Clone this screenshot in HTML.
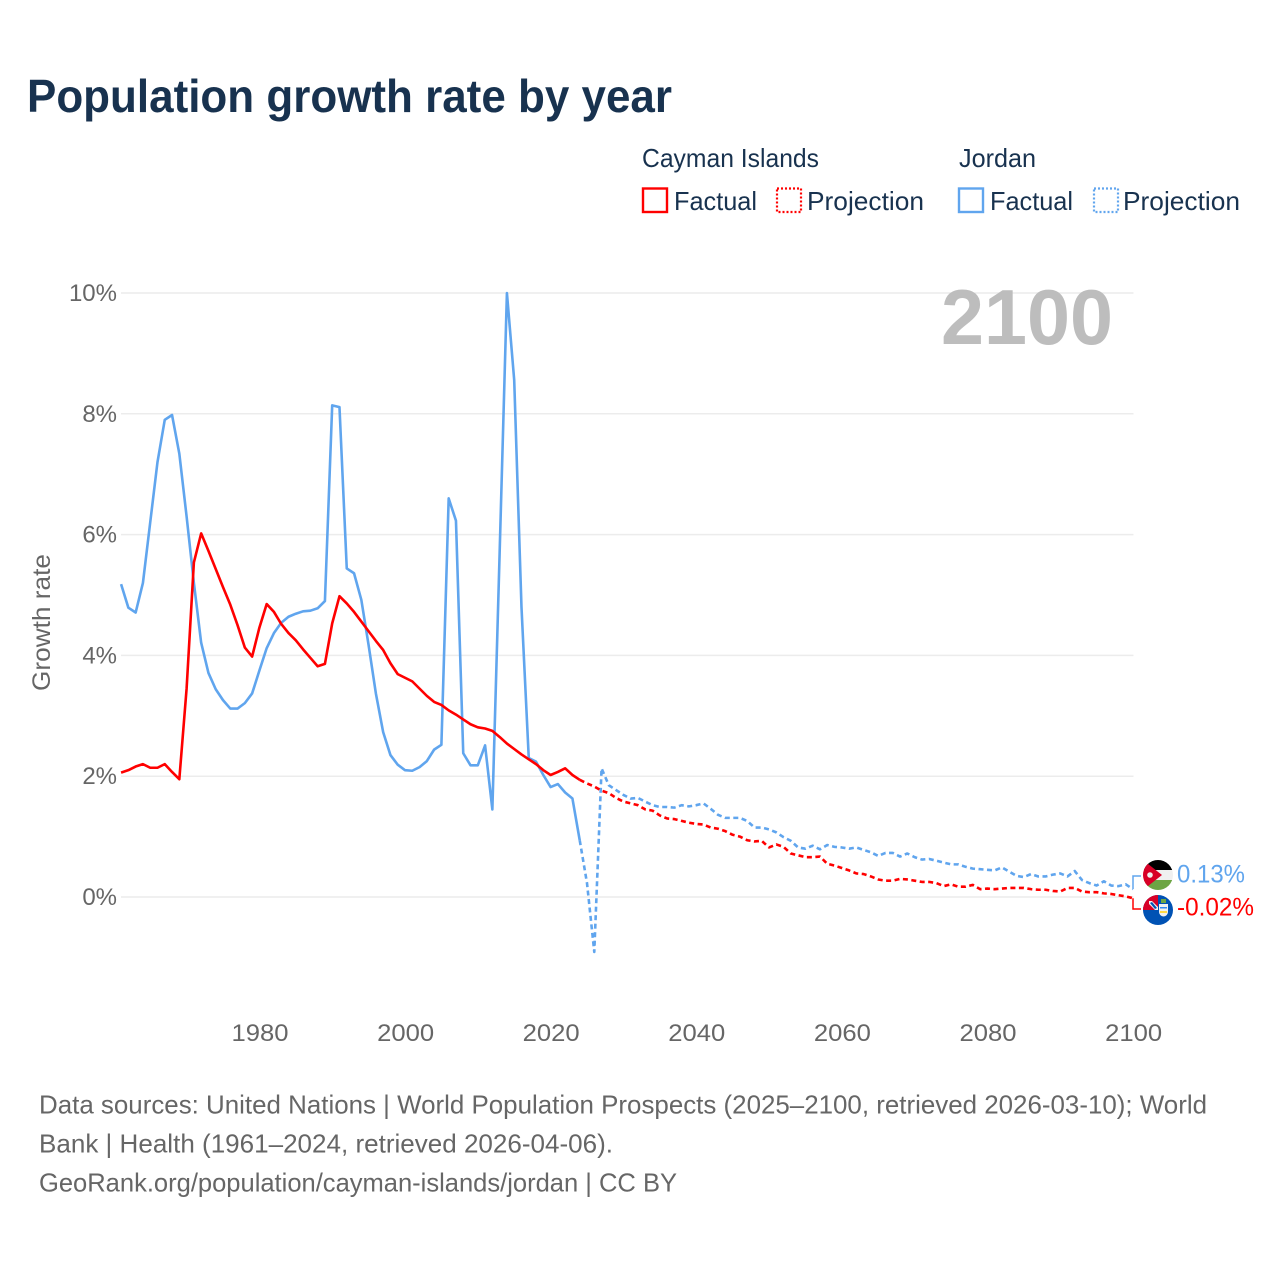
<!DOCTYPE html>
<html lang="en">
<head>
<meta charset="utf-8">
<title>Population growth rate by year</title>
<style>
html,body{margin:0;padding:0;background:#fff;}
svg{display:block;font-family:"Liberation Sans",sans-serif;}
</style>
</head>
<body>
<svg id="chart" xmlns="http://www.w3.org/2000/svg" width="1280" height="1280" viewBox="0 0 1280 1280">
  <rect width="1280" height="1280" fill="#fff"/>
  <text x="27" y="112" font-size="46" font-weight="700" fill="#18324f" textLength="645" lengthAdjust="spacingAndGlyphs">Population growth rate by year</text>

  <g font-size="26" fill="#18324f">
    <text x="642" y="167" textLength="177" lengthAdjust="spacingAndGlyphs">Cayman Islands</text>
    <text x="959" y="167" textLength="77" lengthAdjust="spacingAndGlyphs">Jordan</text>
    <g>
      <rect x="643" y="188.500" width="24" height="23.500" fill="none" stroke="#ff0000" stroke-width="2.400"/>
      <text x="674" y="210" textLength="83" lengthAdjust="spacingAndGlyphs">Factual</text>
    </g>
    <g>
      <rect x="777" y="188.500" width="24" height="23.500" fill="none" stroke="#ff0000" stroke-width="2.200" stroke-dasharray="2 2"/>
      <text x="807" y="210" textLength="117" lengthAdjust="spacingAndGlyphs">Projection</text>
    </g>
    <g>
      <rect x="959" y="188.500" width="24" height="23.500" fill="none" stroke="#60a5ee" stroke-width="2.400"/>
      <text x="990" y="210" textLength="83" lengthAdjust="spacingAndGlyphs">Factual</text>
    </g>
    <g>
      <rect x="1094" y="188.500" width="24" height="23.500" fill="none" stroke="#60a5ee" stroke-width="2.200" stroke-dasharray="2 2"/>
      <text x="1123" y="210" textLength="117" lengthAdjust="spacingAndGlyphs">Projection</text>
    </g>
  </g>

  <g id="grid"></g>
  <g id="y-ticks"></g>
  <g id="x-ticks"></g>
  <text transform="translate(50 622.5) rotate(-90)" text-anchor="middle" font-size="25" fill="#666" textLength="137" lengthAdjust="spacingAndGlyphs">Growth rate</text>
  <text x="941" y="344" font-size="78" font-weight="700" fill="#bdbdbd" textLength="172" lengthAdjust="spacingAndGlyphs">2100</text>

  <g id="series"></g>
  <g id="end-labels"></g>

  <defs>
    <clipPath id="clip-jordan"><circle cx="1158" cy="875" r="15"/></clipPath>
    <clipPath id="clip-cayman"><circle cx="1158" cy="910" r="15"/></clipPath>
  </defs>
  <g clip-path="url(#clip-jordan)">
    <rect x="1143" y="860" width="30" height="10" fill="#000"/>
    <rect x="1143" y="870" width="30" height="10" fill="#f0f0f0"/>
    <rect x="1143" y="880" width="30" height="10" fill="#6da544"/>
    <polygon points="1143,860 1162,875 1143,890" fill="#d80027"/>
    <circle cx="1150" cy="875" r="2.800" fill="#f0f0f0"/>
  </g>
  <g clip-path="url(#clip-cayman)">
    <rect x="1143" y="895" width="30" height="30" fill="#0052b4"/>
    <rect x="1143" y="895" width="15" height="15" fill="#d80027"/>
    <polygon points="1149,901 1152,901 1158,907 1158,910 1155,910 1149,904" fill="#f0f0f0"/>
    <polygon points="1150,903 1152,902 1157,908 1155,909" fill="#0052b4"/>
    <path d="M1159 904h9v8a4.500 4.500 0 0 1-9 0z" fill="#f0f0f0"/>
    <rect x="1160" y="907" width="7" height="1.500" fill="#338af3"/>
    <rect x="1160" y="911" width="7" height="2" fill="#ffda44"/>
    <rect x="1161" y="899" width="5" height="4" fill="#6da544"/>
  </g>

  <g font-size="26" fill="#666">
    <text x="39" y="1113.500" textLength="1168" lengthAdjust="spacingAndGlyphs">Data sources: United Nations | World Population Prospects (2025–2100, retrieved 2026-03-10); World</text>
    <text x="39" y="1152.500" textLength="574" lengthAdjust="spacingAndGlyphs">Bank | Health (1961–2024, retrieved 2026-04-06).</text>
    <text x="39" y="1191.500" textLength="638" lengthAdjust="spacingAndGlyphs">GeoRank.org/population/cayman-islands/jordan | CC BY</text>
  </g>
</svg>
<script>
const factualYears = [
  1961,1962,1963,1964,1965,1966,1967,1968,1969,1970,
  1971,1972,1973,1974,1975,1976,1977,1978,1979,1980,
  1981,1982,1983,1984,1985,1986,1987,1988,1989,1990,
  1991,1992,1993,1994,1995,1996,1997,1998,1999,2000,
  2001,2002,2003,2004,2005,2006,2007,2008,2009,2010,
  2011,2012,2013,2014,2015,2016,2017,2018,2019,2020,
  2021,2022,2023,2024
];
const projectionYears = [
  2024,2025,2026,2027,2028,2029,2030,
  2031,2032,2033,2034,2035,2036,2037,2038,2039,2040,
  2041,2042,2043,2044,2045,2046,2047,2048,2049,2050,
  2051,2052,2053,2054,2055,2056,2057,2058,2059,2060,
  2061,2062,2063,2064,2065,2066,2067,2068,2069,2070,
  2071,2072,2073,2074,2075,2076,2077,2078,2079,2080,
  2081,2082,2083,2084,2085,2086,2087,2088,2089,2090,
  2091,2092,2093,2094,2095,2096,2097,2098,2099,2100
];
const jordanFactual = [
  5.18,4.79,4.71,5.20,6.20,7.20,7.90,7.98,7.34,6.30,
  5.20,4.21,3.71,3.44,3.26,3.12,3.12,3.21,3.37,3.75,
  4.12,4.37,4.54,4.64,4.69,4.73,4.74,4.78,4.90,8.14,
  8.11,5.44,5.36,4.92,4.17,3.37,2.73,2.35,2.19,2.10,
  2.09,2.15,2.25,2.44,2.52,6.60,6.23,2.38,2.18,2.18,
  2.51,1.45,5.70,10.0,8.56,4.80,2.30,2.24,2.02,1.82,
  1.87,1.73,1.63,0.94
];
const jordanProjection = [
  0.94,0.23,-0.91,2.13,1.85,1.77,1.69,
  1.63,1.64,1.58,1.52,1.49,1.49,1.48,1.52,1.50,1.52,
  1.55,1.46,1.36,1.31,1.31,1.31,1.26,1.15,1.15,1.12,
  1.07,0.99,0.93,0.82,0.80,0.85,0.79,0.86,0.83,0.82,
  0.80,0.82,0.78,0.74,0.68,0.73,0.73,0.67,0.72,0.66,
  0.62,0.63,0.60,0.57,0.54,0.54,0.50,0.47,0.46,0.45,
  0.44,0.49,0.42,0.35,0.33,0.38,0.34,0.34,0.37,0.39,
  0.34,0.43,0.28,0.23,0.19,0.26,0.19,0.18,0.21,0.13
];
const caymanFactual = [
  2.06,2.10,2.16,2.20,2.14,2.14,2.20,2.07,1.95,3.45,
  5.54,6.02,5.73,5.43,5.13,4.84,4.50,4.13,3.98,4.46,
  4.85,4.72,4.52,4.37,4.25,4.10,3.96,3.82,3.86,4.53,
  4.98,4.86,4.72,4.56,4.40,4.24,4.09,3.87,3.69,3.63,
  3.57,3.45,3.33,3.23,3.18,3.09,3.02,2.94,2.86,2.81,
  2.79,2.75,2.65,2.54,2.45,2.36,2.28,2.20,2.10,2.02,
  2.07,2.13,2.02,1.94
];
const caymanProjection = [
  1.94,1.88,1.83,1.76,1.72,1.64,1.58,
  1.55,1.52,1.45,1.43,1.35,1.30,1.29,1.26,1.23,1.21,
  1.20,1.15,1.13,1.09,1.03,1.00,0.94,0.92,0.93,0.82,
  0.87,0.83,0.72,0.69,0.66,0.66,0.67,0.55,0.52,0.48,
  0.44,0.39,0.38,0.34,0.29,0.27,0.27,0.30,0.29,0.27,
  0.25,0.25,0.23,0.18,0.21,0.17,0.17,0.20,0.13,0.14,
  0.13,0.14,0.15,0.15,0.15,0.13,0.12,0.12,0.10,0.09,
  0.15,0.15,0.09,0.08,0.08,0.06,0.05,0.03,0.01,-0.02
];
const yTickValues = [0,2,4,6,8,10];
const xTickYears = [1980,2000,2020,2040,2060,2080,2100];

const SVG_NS = 'http://www.w3.org/2000/svg';
const X_AT_1980 = 259.4, PX_PER_YEAR = 7.28, Y_AT_ZERO = 897, PX_PER_PCT = 60.4;
const GRID_LEFT = 121, GRID_RIGHT = 1133.5;
const RED = '#ff0000', BLUE = '#60a5ee';

function xScale(year){ return X_AT_1980 + (year - 1980) * PX_PER_YEAR; }
function yScale(v){ return Y_AT_ZERO - v * PX_PER_PCT; }
function make(tag, attrs, parent){
  const el = document.createElementNS(SVG_NS, tag);
  for (const k in attrs) el.setAttribute(k, attrs[k]);
  parent.appendChild(el);
  return el;
}
function linePath(years, values){
  return years.map(function(y, i){
    return (i ? 'L' : 'M') + xScale(y).toFixed(2) + ' ' + yScale(values[i]).toFixed(2);
  }).join('');
}

const gridG = document.getElementById('grid');
const yTicksG = document.getElementById('y-ticks');
yTickValues.forEach(function(v){
  const line = make('line', {x1:GRID_LEFT, x2:GRID_RIGHT, y1:yScale(v), y2:yScale(v), stroke:'#ececec', 'stroke-width':1.5}, gridG);
  
  
  const t = make('text', {x:117, y:yScale(v)+8, 'text-anchor':'end', 'font-size':24, fill:'#666'}, yTicksG);
  
  
  t.textContent = v + '%';
});

const xTicksG = document.getElementById('x-ticks');
xTickYears.forEach(function(y){
  const t = make('text', {x:xScale(y)+0.6, y:1041, 'text-anchor':'middle', 'font-size':24, fill:'#666', textLength:57, lengthAdjust:'spacingAndGlyphs'}, xTicksG);
  
  
  t.textContent = y;
});

const seriesG = document.getElementById('series');
function drawLine(name, years, values, color, dashed){
  const attrs = {d:linePath(years, values), fill:'none', stroke:color, 'stroke-width':2.6, 'stroke-linejoin':'round'};
  if (dashed) attrs['stroke-dasharray'] = '5 3.5';
  const p = make('path', attrs, seriesG);
  
  
}
drawLine('jordan-factual-line', factualYears, jordanFactual, BLUE, false);
drawLine('jordan-projection-line', projectionYears, jordanProjection, BLUE, true);
drawLine('cayman-factual-line', factualYears, caymanFactual, RED, false);
drawLine('cayman-projection-line', projectionYears, caymanProjection, RED, true);

const labelsG = document.getElementById('end-labels');
function drawEnd(name, years, values, color, labelY, textWidth){
  const last = values[values.length - 1];
  const xEnd = xScale(years[years.length - 1]);
  const c = make('path', {d:'M' + xEnd + ' ' + yScale(last) + 'V' + labelY + 'H1141', fill:'none', stroke:color, 'stroke-width':1.5}, labelsG);
  
  
  const t = make('text', {x:1177, y:labelY + 6.5, 'font-size':25, fill:color, textLength:textWidth, lengthAdjust:'spacingAndGlyphs'}, labelsG);
  
  
  t.textContent = last.toFixed(2) + '%';
}
drawEnd('jordan', projectionYears, jordanProjection, BLUE, 876, 68);
drawEnd('cayman', projectionYears, caymanProjection, RED, 909, 77);
</script>
</body>
</html>
